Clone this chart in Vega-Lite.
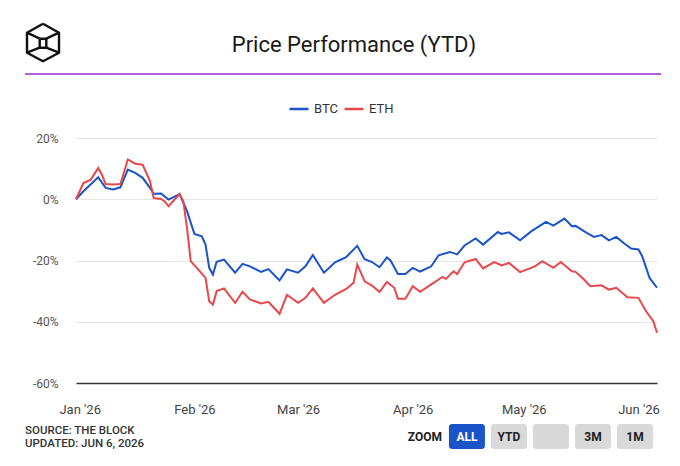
{
  "$schema": "https://vega.github.io/schema/vega-lite/v6.json",
  "background": "white",
  "padding": {"left": 22, "top": 22, "right": 0, "bottom": 0},
  "config": {
    "font": "Roboto",
    "view": {"stroke": null}
  },
  "spacing": 8,
  "resolve": {"scale": {"color": "independent"}, "legend": {"color": "independent"}},
  "vconcat": [
    {
      "spacing": 21,
      "resolve": {"scale": {"color": "independent"}, "legend": {"color": "independent"}},
      "vconcat": [
        {
          "width": 581,
          "height": 50,
          "layer": [
            {
              "data": {"values": [
                {"seg": "base", "ord": 1, "x": 0, "y": 0},
                {"seg": "base", "ord": 2, "x": 636, "y": 0}
              ]},
              "mark": {"type": "line", "color": "#9b2bd3", "strokeWidth": 1.5},
              "encoding": {
                "x": {"field": "x", "type": "quantitative", "scale": {"domain": [0, 636], "range": [-51, 585], "nice": false}, "axis": null},
                "y": {"field": "y", "type": "quantitative", "scale": {"domain": [0, 50], "nice": false}, "axis": null},
                "order": {"field": "ord", "type": "quantitative"}
              }
            },
            {
              "data": {"values": [
                {"seg": "hex", "ord": 1, "x": 18, "y": 50.3},
                {"seg": "hex", "ord": 2, "x": 34, "y": 41.3},
                {"seg": "hex", "ord": 3, "x": 34, "y": 21.3},
                {"seg": "hex", "ord": 4, "x": 18, "y": 12.7},
                {"seg": "hex", "ord": 5, "x": 2, "y": 21.3},
                {"seg": "hex", "ord": 6, "x": 2, "y": 41.3},
                {"seg": "hex", "ord": 7, "x": 18, "y": 50.3},
                {"seg": "core", "ord": 1, "x": 14.7, "y": 35.3},
                {"seg": "core", "ord": 2, "x": 21.3, "y": 35.3},
                {"seg": "core", "ord": 3, "x": 21.3, "y": 26.3},
                {"seg": "core", "ord": 4, "x": 14.7, "y": 26.3},
                {"seg": "core", "ord": 5, "x": 14.7, "y": 35.3},
                {"seg": "ul", "ord": 1, "x": 2, "y": 41.3},
                {"seg": "ul", "ord": 2, "x": 14.7, "y": 35.3},
                {"seg": "ur", "ord": 1, "x": 34, "y": 41.3},
                {"seg": "ur", "ord": 2, "x": 21.3, "y": 35.3},
                {"seg": "ll", "ord": 1, "x": 2, "y": 21.3},
                {"seg": "ll", "ord": 2, "x": 14.7, "y": 26.3},
                {"seg": "lr", "ord": 1, "x": 34, "y": 21.3},
                {"seg": "lr", "ord": 2, "x": 21.3, "y": 26.3}
              ]},
              "mark": {"type": "line", "color": "#111", "strokeWidth": 2.4, "strokeJoin": "round"},
              "encoding": {
                "x": {"field": "x", "type": "quantitative", "axis": null},
                "y": {"field": "y", "type": "quantitative", "axis": null},
                "detail": {"field": "seg", "type": "nominal"},
                "order": {"field": "ord", "type": "quantitative"}
              }
            },
            {
              "data": {"values": [{"title": "Price Performance (YTD)"}]},
              "mark": {"type": "text", "fontSize": 22, "color": "#1a1a1a", "align": "center", "baseline": "middle"},
              "encoding": {
                "x": {"datum": 329, "type": "quantitative", "axis": null},
                "y": {"datum": 29, "type": "quantitative", "axis": null},
                "text": {"field": "title"}
              }
            }
          ]
        },
        {
          "width": 581,
          "height": 245,
          "data": {
            "values": [
              {"date": "2025-12-31", "asset": "BTC", "pct": 0},
              {"date": "2026-01-02", "asset": "BTC", "pct": 2.6},
              {"date": "2026-01-06", "asset": "BTC", "pct": 7.2},
              {"date": "2026-01-08", "asset": "BTC", "pct": 3.7},
              {"date": "2026-01-10", "asset": "BTC", "pct": 3.2},
              {"date": "2026-01-12", "asset": "BTC", "pct": 3.9},
              {"date": "2026-01-14", "asset": "BTC", "pct": 9.7},
              {"date": "2026-01-16", "asset": "BTC", "pct": 8.6},
              {"date": "2026-01-18", "asset": "BTC", "pct": 7.0},
              {"date": "2026-01-20", "asset": "BTC", "pct": 3.7},
              {"date": "2026-01-21", "asset": "BTC", "pct": 1.8},
              {"date": "2026-01-23", "asset": "BTC", "pct": 1.9},
              {"date": "2026-01-25", "asset": "BTC", "pct": -0.1},
              {"date": "2026-01-28", "asset": "BTC", "pct": 1.7},
              {"date": "2026-01-30", "asset": "BTC", "pct": -3.9},
              {"date": "2026-02-01", "asset": "BTC", "pct": -11.3},
              {"date": "2026-02-03", "asset": "BTC", "pct": -12.1},
              {"date": "2026-02-04", "asset": "BTC", "pct": -14.8},
              {"date": "2026-02-05", "asset": "BTC", "pct": -22.4},
              {"date": "2026-02-06", "asset": "BTC", "pct": -24.6},
              {"date": "2026-02-07", "asset": "BTC", "pct": -20.4},
              {"date": "2026-02-09", "asset": "BTC", "pct": -19.7},
              {"date": "2026-02-12", "asset": "BTC", "pct": -24.0},
              {"date": "2026-02-14", "asset": "BTC", "pct": -21.1},
              {"date": "2026-02-16", "asset": "BTC", "pct": -21.9},
              {"date": "2026-02-19", "asset": "BTC", "pct": -23.7},
              {"date": "2026-02-21", "asset": "BTC", "pct": -22.8},
              {"date": "2026-02-24", "asset": "BTC", "pct": -26.5},
              {"date": "2026-02-26", "asset": "BTC", "pct": -22.9},
              {"date": "2026-03-01", "asset": "BTC", "pct": -24.0},
              {"date": "2026-03-03", "asset": "BTC", "pct": -21.9},
              {"date": "2026-03-05", "asset": "BTC", "pct": -18.2},
              {"date": "2026-03-08", "asset": "BTC", "pct": -24.0},
              {"date": "2026-03-11", "asset": "BTC", "pct": -20.6},
              {"date": "2026-03-14", "asset": "BTC", "pct": -18.9},
              {"date": "2026-03-17", "asset": "BTC", "pct": -15.2},
              {"date": "2026-03-19", "asset": "BTC", "pct": -19.6},
              {"date": "2026-03-21", "asset": "BTC", "pct": -20.5},
              {"date": "2026-03-23", "asset": "BTC", "pct": -22.2},
              {"date": "2026-03-25", "asset": "BTC", "pct": -19.0},
              {"date": "2026-03-26", "asset": "BTC", "pct": -20.0},
              {"date": "2026-03-28", "asset": "BTC", "pct": -24.4},
              {"date": "2026-03-30", "asset": "BTC", "pct": -24.4},
              {"date": "2026-04-01", "asset": "BTC", "pct": -22.4},
              {"date": "2026-04-03", "asset": "BTC", "pct": -23.6},
              {"date": "2026-04-06", "asset": "BTC", "pct": -21.9},
              {"date": "2026-04-08", "asset": "BTC", "pct": -18.3},
              {"date": "2026-04-11", "asset": "BTC", "pct": -17.2},
              {"date": "2026-04-13", "asset": "BTC", "pct": -18.0},
              {"date": "2026-04-15", "asset": "BTC", "pct": -15.1},
              {"date": "2026-04-18", "asset": "BTC", "pct": -12.8},
              {"date": "2026-04-20", "asset": "BTC", "pct": -14.8},
              {"date": "2026-04-24", "asset": "BTC", "pct": -10.7},
              {"date": "2026-04-25", "asset": "BTC", "pct": -11.3},
              {"date": "2026-04-27", "asset": "BTC", "pct": -10.8},
              {"date": "2026-04-30", "asset": "BTC", "pct": -13.4},
              {"date": "2026-05-03", "asset": "BTC", "pct": -10.5},
              {"date": "2026-05-07", "asset": "BTC", "pct": -7.4},
              {"date": "2026-05-09", "asset": "BTC", "pct": -8.6},
              {"date": "2026-05-12", "asset": "BTC", "pct": -6.3},
              {"date": "2026-05-14", "asset": "BTC", "pct": -8.8},
              {"date": "2026-05-15", "asset": "BTC", "pct": -8.7},
              {"date": "2026-05-18", "asset": "BTC", "pct": -11.0},
              {"date": "2026-05-20", "asset": "BTC", "pct": -12.3},
              {"date": "2026-05-22", "asset": "BTC", "pct": -11.7},
              {"date": "2026-05-24", "asset": "BTC", "pct": -13.4},
              {"date": "2026-05-26", "asset": "BTC", "pct": -12.3},
              {"date": "2026-05-28", "asset": "BTC", "pct": -14.3},
              {"date": "2026-05-30", "asset": "BTC", "pct": -16.1},
              {"date": "2026-06-01", "asset": "BTC", "pct": -16.4},
              {"date": "2026-06-02", "asset": "BTC", "pct": -18.6},
              {"date": "2026-06-04", "asset": "BTC", "pct": -25.7},
              {"date": "2026-06-06", "asset": "BTC", "pct": -28.9},
              {"date": "2025-12-31", "asset": "ETH", "pct": 0},
              {"date": "2026-01-02", "asset": "ETH", "pct": 5.3},
              {"date": "2026-01-04", "asset": "ETH", "pct": 6.4},
              {"date": "2026-01-06", "asset": "ETH", "pct": 10.2},
              {"date": "2026-01-07", "asset": "ETH", "pct": 8.0},
              {"date": "2026-01-08", "asset": "ETH", "pct": 5.0},
              {"date": "2026-01-10", "asset": "ETH", "pct": 4.8},
              {"date": "2026-01-12", "asset": "ETH", "pct": 5.0},
              {"date": "2026-01-14", "asset": "ETH", "pct": 13.0},
              {"date": "2026-01-16", "asset": "ETH", "pct": 11.6},
              {"date": "2026-01-18", "asset": "ETH", "pct": 11.3},
              {"date": "2026-01-20", "asset": "ETH", "pct": 5.9},
              {"date": "2026-01-21", "asset": "ETH", "pct": 0.4},
              {"date": "2026-01-23", "asset": "ETH", "pct": 0.1},
              {"date": "2026-01-24", "asset": "ETH", "pct": -0.7},
              {"date": "2026-01-25", "asset": "ETH", "pct": -2.3},
              {"date": "2026-01-28", "asset": "ETH", "pct": 1.7},
              {"date": "2026-01-29", "asset": "ETH", "pct": -0.7},
              {"date": "2026-01-30", "asset": "ETH", "pct": -9.4},
              {"date": "2026-01-31", "asset": "ETH", "pct": -20.2},
              {"date": "2026-02-02", "asset": "ETH", "pct": -22.9},
              {"date": "2026-02-04", "asset": "ETH", "pct": -25.7},
              {"date": "2026-02-05", "asset": "ETH", "pct": -33.3},
              {"date": "2026-02-06", "asset": "ETH", "pct": -34.4},
              {"date": "2026-02-07", "asset": "ETH", "pct": -30.0},
              {"date": "2026-02-09", "asset": "ETH", "pct": -29.1},
              {"date": "2026-02-12", "asset": "ETH", "pct": -33.8},
              {"date": "2026-02-14", "asset": "ETH", "pct": -30.2},
              {"date": "2026-02-16", "asset": "ETH", "pct": -32.7},
              {"date": "2026-02-19", "asset": "ETH", "pct": -34.0},
              {"date": "2026-02-21", "asset": "ETH", "pct": -33.5},
              {"date": "2026-02-24", "asset": "ETH", "pct": -37.4},
              {"date": "2026-02-26", "asset": "ETH", "pct": -31.2},
              {"date": "2026-03-01", "asset": "ETH", "pct": -33.8},
              {"date": "2026-03-03", "asset": "ETH", "pct": -32.2},
              {"date": "2026-03-05", "asset": "ETH", "pct": -29.1},
              {"date": "2026-03-08", "asset": "ETH", "pct": -33.8},
              {"date": "2026-03-11", "asset": "ETH", "pct": -31.2},
              {"date": "2026-03-14", "asset": "ETH", "pct": -29.3},
              {"date": "2026-03-16", "asset": "ETH", "pct": -27.3},
              {"date": "2026-03-17", "asset": "ETH", "pct": -21.3},
              {"date": "2026-03-19", "asset": "ETH", "pct": -26.8},
              {"date": "2026-03-21", "asset": "ETH", "pct": -28.2},
              {"date": "2026-03-23", "asset": "ETH", "pct": -30.3},
              {"date": "2026-03-25", "asset": "ETH", "pct": -27.0},
              {"date": "2026-03-27", "asset": "ETH", "pct": -28.9},
              {"date": "2026-03-28", "asset": "ETH", "pct": -32.5},
              {"date": "2026-03-30", "asset": "ETH", "pct": -32.5},
              {"date": "2026-04-01", "asset": "ETH", "pct": -28.4},
              {"date": "2026-04-03", "asset": "ETH", "pct": -30.2},
              {"date": "2026-04-06", "asset": "ETH", "pct": -27.8},
              {"date": "2026-04-09", "asset": "ETH", "pct": -25.4},
              {"date": "2026-04-10", "asset": "ETH", "pct": -26.0},
              {"date": "2026-04-12", "asset": "ETH", "pct": -23.5},
              {"date": "2026-04-13", "asset": "ETH", "pct": -24.4},
              {"date": "2026-04-15", "asset": "ETH", "pct": -20.6},
              {"date": "2026-04-18", "asset": "ETH", "pct": -19.5},
              {"date": "2026-04-20", "asset": "ETH", "pct": -22.6},
              {"date": "2026-04-23", "asset": "ETH", "pct": -20.5},
              {"date": "2026-04-25", "asset": "ETH", "pct": -21.6},
              {"date": "2026-04-27", "asset": "ETH", "pct": -20.8},
              {"date": "2026-04-30", "asset": "ETH", "pct": -23.8},
              {"date": "2026-05-04", "asset": "ETH", "pct": -21.9},
              {"date": "2026-05-06", "asset": "ETH", "pct": -20.2},
              {"date": "2026-05-09", "asset": "ETH", "pct": -22.4},
              {"date": "2026-05-11", "asset": "ETH", "pct": -20.5},
              {"date": "2026-05-14", "asset": "ETH", "pct": -23.5},
              {"date": "2026-05-15", "asset": "ETH", "pct": -23.7},
              {"date": "2026-05-17", "asset": "ETH", "pct": -25.9},
              {"date": "2026-05-19", "asset": "ETH", "pct": -28.4},
              {"date": "2026-05-22", "asset": "ETH", "pct": -28.1},
              {"date": "2026-05-24", "asset": "ETH", "pct": -29.5},
              {"date": "2026-05-26", "asset": "ETH", "pct": -28.9},
              {"date": "2026-05-29", "asset": "ETH", "pct": -32.0},
              {"date": "2026-06-01", "asset": "ETH", "pct": -32.2},
              {"date": "2026-06-03", "asset": "ETH", "pct": -36.5},
              {"date": "2026-06-05", "asset": "ETH", "pct": -39.8},
              {"date": "2026-06-06", "asset": "ETH", "pct": -43.6}
            ],
            "format": {"parse": {"date": "date:'%Y-%m-%d'"}}
          },
          "mark": {"type": "line", "strokeWidth": 2},
          "encoding": {
            "x": {
              "field": "date",
              "type": "temporal",
              "scale": {"domain": [{"year": 2025, "month": 12, "date": 31}, {"year": 2026, "month": 6, "date": 6}]},
              "axis": {
                "title": null,
                "values": [
                  {"year": 2026, "month": 1, "date": 1},
                  {"year": 2026, "month": 2, "date": 1},
                  {"year": 2026, "month": 3, "date": 1},
                  {"year": 2026, "month": 4, "date": 1},
                  {"year": 2026, "month": 5, "date": 1},
                  {"year": 2026, "month": 6, "date": 1}
                ],
                "format": "%b '%y",
                "labelFontSize": 13,
                "labelColor": "#444",
                "labelPadding": 20,
                "labelFlush": false,
                "ticks": false,
                "grid": false,
                "domainColor": "#333",
                "domainWidth": 1.5,
                "zindex": 1
              }
            },
            "y": {
              "field": "pct",
              "type": "quantitative",
              "scale": {"domain": [-60, 20], "nice": false, "zero": false},
              "axis": {
                "title": null,
                "values": [-60, -40, -20, 0, 20],
                "labelExpr": "datum.value + '%'",
                "labelFontSize": 12,
                "labelColor": "#555",
                "labelPadding": 18,
                "ticks": false,
                "domain": false,
                "grid": true,
                "gridColor": "#e6e6e6"
              }
            },
            "color": {
              "field": "asset",
              "type": "nominal",
              "scale": {"domain": ["BTC", "ETH"], "range": ["#1a54c8", "#e8474b"]},
              "legend": {
                "title": null,
                "orient": "none",
                "legendX": 212,
                "legendY": -40,
                "direction": "horizontal",
                "symbolType": "stroke",
                "symbolStrokeWidth": 2.5,
                "symbolSize": 361,
                "labelFontSize": 13,
                "labelColor": "#333",
                "columnPadding": 1,
                "labelOffset": 4,
                "padding": 0
              }
            }
          }
        }
      ]
    },
    {
      "spacing": 10,
      "hconcat": [
        {
          "width": 318,
          "height": 26,
          "data": {"values": [
            {"col": "a", "line": 1, "text": "SOURCE: THE BLOCK"},
            {"col": "a", "line": 2, "text": "UPDATED: JUN 6, 2026"}
          ]},
          "mark": {"type": "text", "align": "left", "baseline": "middle", "fontSize": 11.5, "fontWeight": 500, "color": "#333"},
          "encoding": {
            "x": {"field": "col", "type": "nominal", "bandPosition": 0, "axis": null, "scale": {"type": "band", "paddingInner": 0, "paddingOuter": 0, "range": [-51, 0]}},
            "y": {"field": "line", "type": "ordinal", "axis": null},
            "text": {"field": "text"}
          }
        },
        {
          "width": {"step": 42},
          "height": 25,
          "data": {"values": [
            {"key": "ZOOM", "label": "ZOOM", "kind": "caption"},
            {"key": "ALL", "label": "ALL", "kind": "active"},
            {"key": "YTD", "label": "YTD", "kind": "button"},
            {"key": "6M", "label": "", "kind": "button"},
            {"key": "3M", "label": "3M", "kind": "button"},
            {"key": "1M", "label": "1M", "kind": "button"}
          ]},
          "encoding": {
            "x": {"field": "key", "type": "nominal", "axis": null, "scale": {"domain": ["ZOOM", "ALL", "YTD", "6M", "3M", "1M"], "paddingInner": 0.143, "paddingOuter": 0.07}}
          },
          "layer": [
            {
              "transform": [{"filter": "datum.kind != 'caption'"}],
              "mark": {"type": "bar", "cornerRadius": 3},
              "encoding": {
                "color": {"condition": {"test": "datum.kind == 'active'", "value": "#1a54c8"}, "value": "#d9d9d9"}
              }
            },
            {
              "mark": {"type": "text", "fontSize": 12, "fontWeight": "bold", "baseline": "middle"},
              "encoding": {
                "text": {"field": "label"},
                "color": {"condition": {"test": "datum.kind == 'active'", "value": "white"}, "value": "#222"}
              }
            }
          ]
        }
      ]
    }
  ]
}
